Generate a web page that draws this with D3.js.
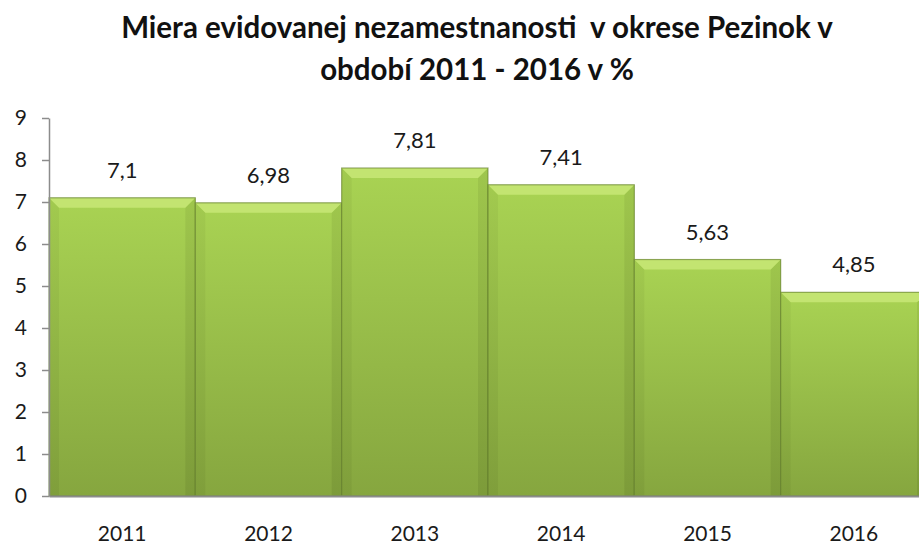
<!DOCTYPE html>
<html>
<head>
<meta charset="utf-8">
<script src="https://cdn.jsdelivr.net/npm/d3@7"></script>
<style>
  html, body { margin: 0; padding: 0; background: #fff; overflow: hidden; }
  svg { display: block; font-family: Lato, "Open Sans", sans-serif; }
</style>
</head>
<body>
<svg id="chart"></svg>
<script>
const years = ["2011", "2012", "2013", "2014", "2015", "2016"];
const rates = [7.1, 6.98, 7.81, 7.41, 5.63, 4.85];
const rateLabels = ["7,1", "6,98", "7,81", "7,41", "5,63", "4,85"];
const yTicks = [0, 1, 2, 3, 4, 5, 6, 7, 8, 9];
const titleLines = ["Miera evidovanej nezamestnanosti  v okrese Pezinok v", "období 2011 - 2016 v %"];

const width = 919, height = 544;
const svg = d3.select("#chart").attr("width", width).attr("height", height);

const x = d3.scaleBand().domain(years).range([49, 927]).padding(0);
const y = d3.scaleLinear().domain([0, 9]).range([496, 118]);

const defs = svg.append("defs");
const grad = defs.append("linearGradient").attr("id", "barFill")
    .attr("x1", 0).attr("y1", 0).attr("x2", 0).attr("y2", 1);
grad.append("stop").attr("offset", "0%").attr("stop-color", "#a9d353");
grad.append("stop").attr("offset", "100%").attr("stop-color", "#86a63f");

const side = defs.append("linearGradient").attr("id", "sideFill")
    .attr("x1", 0).attr("y1", 0).attr("x2", 0).attr("y2", 1);
side.append("stop").attr("offset", "0%").attr("stop-color", "#9cc34b");
side.append("stop").attr("offset", "100%").attr("stop-color", "#7a9838");

// title
svg.append("g").selectAll("text")
    .data(titleLines)
    .enter().append("text")
    .attr("x", 477)
    .attr("y", (d, i) => 38 + i * 42)
    .attr("text-anchor", "middle")
    .attr("font-size", 29.5)
    .attr("font-weight", "bold")
    .attr("fill", "#111")
    .style("white-space", "pre")
    .text(d => d);

const b = 10; // bevel size
const bars = svg.append("g").selectAll("g")
    .data(rates)
    .enter().append("g");

bars.append("rect")
    .attr("x", (d, i) => x(years[i]))
    .attr("y", d => y(d))
    .attr("width", x.bandwidth())
    .attr("height", d => y(0) - y(d))
    .attr("fill", "url(#barFill)");

// left and right bevel strips
bars.append("polygon")
    .attr("fill", "url(#sideFill)")
    .attr("opacity", 0.55)
    .attr("points", (d, i) => {
        const x0 = x(years[i]), y0 = y(d), y1 = y(0);
        return [[x0, y0], [x0 + b, y0 + b], [x0 + b, y1], [x0, y1]].join(" ");
    });
bars.append("polygon")
    .attr("fill", "url(#sideFill)")
    .attr("points", (d, i) => {
        const x1 = x(years[i]) + x.bandwidth(), y0 = y(d), y1 = y(0);
        return [[x1, y0], [x1 - b, y0 + b], [x1 - b, y1], [x1, y1]].join(" ");
    })
    .attr("opacity", 0.8);

// top bevel
bars.append("polygon")
    .attr("fill", "#c3e471")
    .attr("points", (d, i) => {
        const x0 = x(years[i]), x1 = x0 + x.bandwidth(), y0 = y(d);
        return [[x0, y0], [x1, y0], [x1 - b, y0 + b], [x0 + b, y0 + b]].join(" ");
    });

// dark separating edges
bars.append("rect")
    .attr("x", (d, i) => x(years[i]))
    .attr("y", d => y(d))
    .attr("width", x.bandwidth())
    .attr("height", d => y(0) - y(d))
    .attr("fill", "none")
    .attr("stroke", "#5f7a2a")
    .attr("stroke-opacity", 0.6)
    .attr("stroke-width", 1.2);

// value labels
svg.append("g").selectAll("text")
    .data(rateLabels)
    .enter().append("text")
    .attr("x", (d, i) => x(years[i]) + x.bandwidth() / 2)
    .attr("y", (d, i) => y(rates[i]) - 20)
    .attr("text-anchor", "middle")
    .attr("font-size", 22)
    .attr("fill", "#1a1a1a")
    .text(d => d);

// axes
const yAxis = svg.append("g")
    .attr("transform", "translate(49,0)")
    .call(d3.axisLeft(y).tickValues(yTicks).tickSize(7).tickSizeOuter(0).tickPadding(15));
yAxis.select(".domain").attr("stroke", "#8c8c8c").attr("stroke-width", 1.5);
yAxis.selectAll(".tick line").attr("stroke", "#8c8c8c").attr("stroke-width", 1.5);
yAxis.selectAll(".tick text")
    .attr("font-size", 21)
    .attr("font-family", "Lato, sans-serif")
    .attr("fill", "#1a1a1a");

const xAxis = svg.append("g")
    .attr("transform", "translate(0," + y(0) + ")")
    .call(d3.axisBottom(x).tickSize(0).tickSizeOuter(0));
xAxis.select(".domain").attr("stroke", "#8c8c8c").attr("stroke-width", 2);
xAxis.selectAll(".tick text")
    .attr("y", 45)
    .attr("dy", 0)
    .attr("font-size", 21)
    .attr("font-family", "Lato, sans-serif")
    .attr("fill", "#1a1a1a");
</script>
</body>
</html>
